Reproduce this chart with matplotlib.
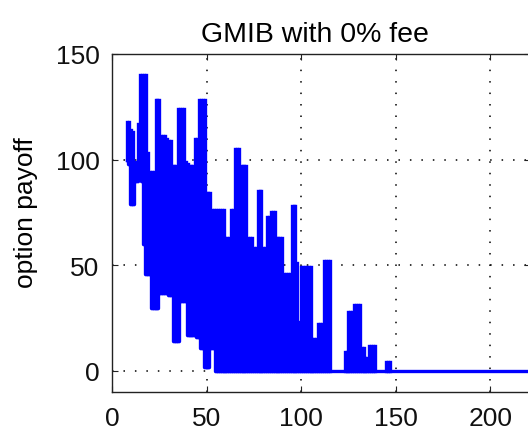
import numpy as np
import matplotlib
matplotlib.use("Agg")
import matplotlib.pyplot as plt

# time step (years) for each simulated exercise
ages = np.arange(8, 231)

# highest payoff seen at each time step, x = 8 .. 147, zero afterwards
upper = [118, 118, 114, 113, 99, 98, 117, 140, 140, 140,
         140, 103, 94, 94, 94, 128, 128, 128, 111, 111,
         111, 110, 109, 109, 97, 97, 97, 124, 124, 124,
         124, 99, 98, 97, 97, 97, 110, 110, 128, 128,
         128, 128, 84, 84, 84, 76, 76, 76, 76, 76,
         76, 76, 63, 63, 63, 76, 76, 105, 105, 105,
         97, 97, 97, 97, 63, 63, 63, 58, 58, 85,
         85, 85, 58, 58, 73, 73, 75, 75, 75, 63,
         63, 63, 63, 46, 46, 46, 46, 78, 78, 78,
         51, 23, 49, 49, 49, 49, 49, 49, 15, 15,
         15, 22, 22, 22, 52, 52, 52, 52, 0, 0,
         0, 0, 0, 0, 0, 9, 9, 28, 28, 28,
         31, 31, 31, 31, 11, 11, 6, 6, 12, 12,
         12, 12, 0, 0, 0, 0, 0, 4, 4, 4]
upper = upper + [0] * (len(ages) - len(upper))

# lowest payoff seen at each time step, x = 8 .. 57, zero afterwards
lower = [100, 98, 79, 79, 90, 90, 96, 96, 90, 60,
         46, 46, 46, 30, 30, 30, 30, 37, 37, 37,
         37, 37, 36, 36, 36, 14, 14, 14, 33, 33,
         33, 33, 17, 17, 17, 17, 17, 16, 16, 11,
         11, 2, 2, 2, 11, 11, 11, 0, 0, 0]
lower = lower + [0] * (len(ages) - len(lower))

plt.rcParams['font.family'] = ['Liberation Sans', 'DejaVu Sans']
plt.rcParams['font.size'] = 19

fig = plt.figure(figsize=(5.28, 4.35), dpi=100)
ax = fig.add_axes([112 / 528, 42 / 435, 418 / 528, 338 / 435])

# every run at a time step: a thick vertical stroke from lowest to highest payoff
# (separate segments, so the overlapping strokes don't cancel out)
ax.vlines(ages, lower, upper, color='#0000ff', lw=2.4, capstyle='projecting')
# bottom edge of the runs (the long flat line at zero)
ax.plot(ages, lower, color='#0000ff', lw=2.4, drawstyle='steps-mid')

ax.set_xlim(0, 221)
ax.set_ylim(-10, 150)
ax.set_xticks([0, 50, 100, 150, 200])
ax.set_yticks([0, 50, 100, 150])
ax.grid(True, color='black', lw=1.1, linestyle=(0, (1, 6.5)))
ax.set_axisbelow(True)
ax.tick_params(direction='in', top=True, right=True, length=4.3, width=0.8,
               colors='#222222', labelcolor='#111111')
ax.tick_params(axis='x', pad=10)
ax.tick_params(axis='y', pad=9)
for s in ax.spines.values():
    s.set_linewidth(1.0)
    s.set_color('#222222')

ax.set_ylabel('option payoff')
ax.yaxis.set_label_coords(-0.176, 0.535)
ax.set_title('GMIB with 0% fee', fontsize=20.5, pad=9, x=0.486)

fig.savefig('out.png', dpi=100)
